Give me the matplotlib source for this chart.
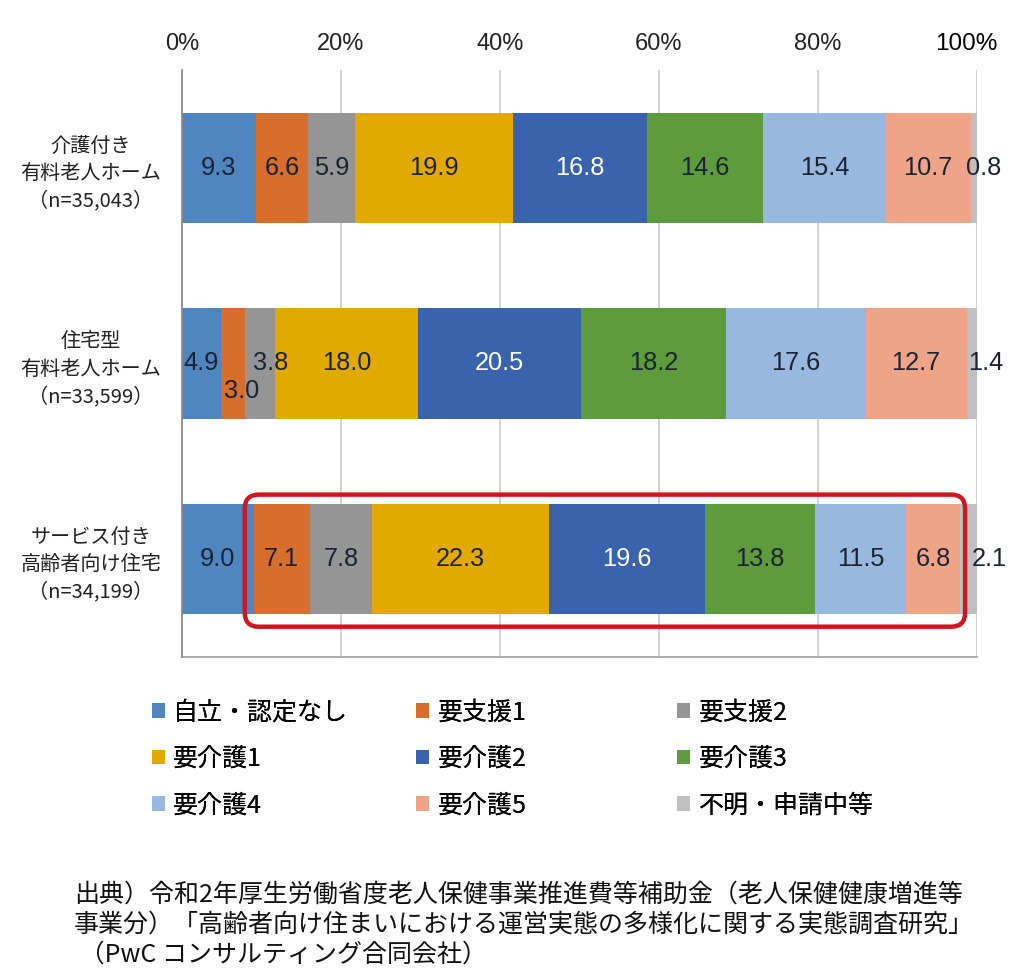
import matplotlib
matplotlib.use("Agg")
import matplotlib.pyplot as plt
from matplotlib.patches import Patch, FancyBboxPatch
import matplotlib.transforms as mtransforms
import numpy as np

plt.rcParams['font.family'] = ['Noto Sans CJK JP', 'DejaVu Sans']

categories = ["介護付き\n有料老人ホーム\n（n=35,043）",
              "住宅型\n有料老人ホーム\n（n=33,599）",
              "サービス付き\n高齢者向け住宅\n（n=34,199）"]
series_names = ["自立・認定なし", "要支援1", "要支援2", "要介護1", "要介護2",
                "要介護3", "要介護4", "要介護5", "不明・申請中等"]
values = [
    [9.3, 4.9, 9.0],
    [6.6, 3.0, 7.1],
    [5.9, 3.8, 7.8],
    [19.9, 18.0, 22.3],
    [16.8, 20.5, 19.6],
    [14.6, 18.2, 13.8],
    [15.4, 17.6, 11.5],
    [10.7, 12.7, 6.8],
    [0.8, 1.4, 2.1],
]
xticks = [0, 20, 40, 60, 80, 100]
xtick_labels = ["0%", "20%", "40%", "60%", "80%", "100%"]

colors = ["#4F86C0", "#D96E2C", "#959595", "#E2AA00", "#3A63AD",
          "#5E9B3D", "#98B8DF", "#F0A487", "#C0C0C0"]
text_colors = ["#1b2333"] * 9
text_colors[4] = "white"

# label offsets (points) for crowded segments: (series, category) -> (dx, dy)
offsets = {(8, 0): (7, 0), (8, 1): (10, 0), (8, 2): (15, 0),
           (1, 1): (6, -20), (2, 1): (8, 0)}

fig = plt.figure(figsize=(10.24, 9.77), dpi=100)
ax = fig.add_axes([0.1777, 0.3275, 0.9541 - 0.1777, 0.9284 - 0.3275])

y = np.arange(len(categories))
left = np.zeros(len(categories))
for i, (name, vals) in enumerate(zip(series_names, values)):
    vals = np.array(vals)
    ax.barh(y, vals, left=left, height=0.565, color=colors[i], label=name, zorder=3)
    for j, v in enumerate(vals):
        cx = left[j] + v / 2
        dx, dy = offsets.get((i, j), (0, 0))
        ax.annotate(f"{v:.1f}", (cx, y[j]), xytext=(dx, dy), textcoords="offset points",
                    ha="center", va="center", fontsize=18.3, color=text_colors[i],
                    family=["Liberation Sans", "DejaVu Sans"], zorder=5)
    left += vals

ax.set_xlim(0, 100)
ax.set_ylim(2.5, -0.5)
ax.set_yticks(y)
ax.set_yticklabels(categories, fontsize=14.5, linespacing=1.4, multialignment="center",
                   color="#222222")
ax.tick_params(axis="y", length=0, pad=15)
ax.xaxis.tick_top()
ax.set_xticks(xticks)
ax.set_xticklabels(xtick_labels, fontsize=17, family=["Liberation Sans", "DejaVu Sans"],
                   color="#222222")
ax.tick_params(axis="x", length=0, pad=11)
xl = ax.get_xticklabels()
xl[-1].set_color("black")
xl[-1].set_fontsize(17.5)
xl[-1].set_transform(xl[-1].get_transform() +
                     mtransforms.ScaledTranslation(-8 / 72, 0, fig.dpi_scale_trans))
ax.grid(axis="x", color="#D0D0D0", linewidth=1.3, zorder=0)
for s in ["top", "right"]:
    ax.spines[s].set_visible(False)
ax.spines["left"].set_color("#8C8C8C")
ax.spines["bottom"].set_color("#A6A6A6")
ax.spines["left"].set_linewidth(1.3)
ax.spines["bottom"].set_linewidth(1.3)
ax.spines["left"].set_zorder(4)

# Red highlight box around the third bar (from 要支援1 onward)
fig.canvas.draw()
p0 = ax.transData.transform((0, 0))
p1 = ax.transData.transform((1, 1))
xunit = abs(p1[0] - p0[0])
yunit = abs(p1[1] - p0[1])
x0, x1 = 7.9, 98.5
y0, y1 = 1.67, 2.345
box = FancyBboxPatch((x0, y0), x1 - x0, y1 - y0,
                     boxstyle=f"round,pad=0,rounding_size={14 / xunit}",
                     mutation_aspect=xunit / yunit,
                     fill=False, edgecolor="#D3151F", linewidth=3.2, zorder=6,
                     clip_on=False)
ax.add_patch(box)

# Legend in three columns
handles = [Patch(facecolor=c, edgecolor="none") for c in colors]
col_x = [0.148, 0.406, 0.661]
for k in range(3):
    idx = [k, k + 3, k + 6]
    leg = fig.legend([handles[i] for i in idx], [series_names[i] for i in idx],
                     loc="upper left", bbox_to_anchor=(col_x[k], 0.284),
                     frameon=False, fontsize=18, handlelength=0.52, handleheight=0.52,
                     handletextpad=0.35, labelspacing=0.82, borderaxespad=0, borderpad=0)
    fig.add_artist(leg)

# Footnote
foot = ["出典）令和2年厚生労働省度老人保健事業推進費等補助金（老人保健健康増進等",
        "事業分）「高齢者向け住まいにおける運営実態の多様化に関する実態調査研究」",
        " （PwC コンサルティング合同会社）"]
for k, line in enumerate(foot):
    fig.text(0.072, 1 - (895 + k * 30) / 977, line, fontsize=18, va="center",
             ha="left", color="#111111")

fig.savefig("out.png", dpi=100)
